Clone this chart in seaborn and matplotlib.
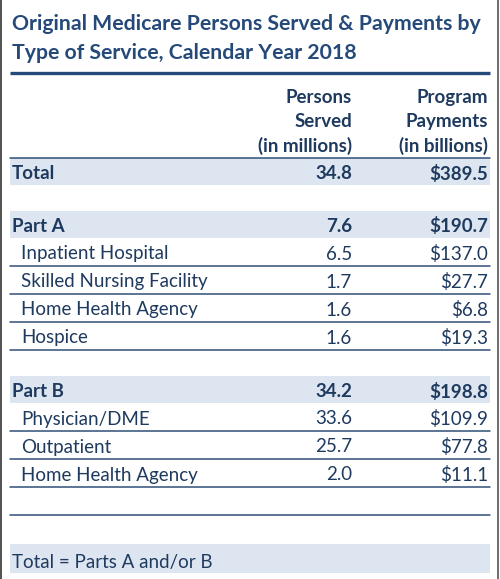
import matplotlib
matplotlib.use("Agg")
import matplotlib.pyplot as plt
import seaborn as sns

title = "Original Medicare Persons Served & Payments by\nType of Service, Calendar Year 2018"
col_headers = ["Persons\nServed\n(in millions)", "Program\nPayments\n(in billions)"]
categories = ["Total", "Part A", "Inpatient Hospital", "Skilled Nursing Facility",
              "Home Health Agency", "Hospice", "Part B", "Physician/DME",
              "Outpatient", "Home Health Agency"]
levels = ["total", "part", "sub", "sub", "sub", "sub", "part", "sub", "sub", "sub"]
persons = [34.8, 7.6, 6.5, 1.7, 1.6, 1.6, 34.2, 33.6, 25.7, 2.0]
payments = [389.5, 190.7, 137.0, 27.7, 6.8, 19.3, 198.8, 109.9, 77.8, 11.1]
footnote = "Total = Parts A and/or B"

sns.set_style("white")
plt.rcParams["font.family"] = ["Lato", "DejaVu Sans"]

navy = "#1f3a5f"
title_blue = "#254a7a"
band = "#dde6f0"
rule = "#2f4f78"
fs = 13.5

fig = plt.figure(figsize=(5, 5.79), dpi=100)
ax = fig.add_axes([0, 0, 1, 1])
ax.set_xlim(0, 500)
ax.set_ylim(579, 0)
ax.axis("off")

left, right = 10, 490
x_label, x_sub = 12, 21
x_c1, x_c2 = 352, 488
row_h = 28
gap = 26
dy = 2  # nudge text down so cap height sits centred in the row

# frame edges
ax.plot([0.8, 0.8], [0, 579], color="#333333", lw=1.2)
ax.plot([497.5, 497.5], [0, 579], color="#555555", lw=1.2)

ax.text(x_label, 38.5, title, fontsize=15.3, fontweight="bold", color=title_blue,
        va="center", ha="left", linespacing=1.55)
ax.plot([left, right], [73, 73], color=title_blue, lw=2.4, solid_capstyle="butt")

for x, h in zip([x_c1, x_c2], col_headers):
    ax.text(x, 122, h, fontsize=fs, fontweight="bold", color=navy,
            ha="right", va="center", linespacing=1.5)
ax.plot([left, right], [158, 158], color=rule, lw=1.1)

y = 158
for cat, lev, p, pay in zip(categories, levels, persons, payments):
    if lev == "part":
        y += gap
    h = row_h - 1 if lev != "sub" else row_h
    yc = y + h / 2 + dy
    if lev in ("total", "part"):
        ax.add_patch(plt.Rectangle((left, y), right - left, h, color=band, lw=0))
        ax.text(x_label, yc, cat, fontsize=fs, fontweight="bold", color=navy, va="center")
        ax.text(x_c1, yc, f"{p:.1f}", fontsize=fs, fontweight="bold", color=navy,
                va="center", ha="right")
        ax.text(x_c2, yc, f"${pay:.1f}", fontsize=fs, fontweight="bold", color=navy,
                va="center", ha="right")
    else:
        ax.text(x_sub, yc, cat, fontsize=fs, color=navy, va="center")
        ax.text(x_c1, yc, f"{p:.1f}", fontsize=fs, color=navy, va="center", ha="right")
        ax.text(x_c2, yc, f"${pay:.1f}", fontsize=fs, color=navy, va="center", ha="right")
        ax.plot([left, right], [y + h, y + h], color=rule, lw=1.1)
    y += h

# empty closing row
y += row_h
ax.plot([left, right], [y, y], color=rule, lw=1.1)

y += gap + 3
ax.add_patch(plt.Rectangle((left, y), right - left, 29, color=band, lw=0))
ax.text(x_label, y + 14.5 + dy + 2, footnote, fontsize=fs, color=navy, va="center")

fig.savefig("out.png", dpi=100)
